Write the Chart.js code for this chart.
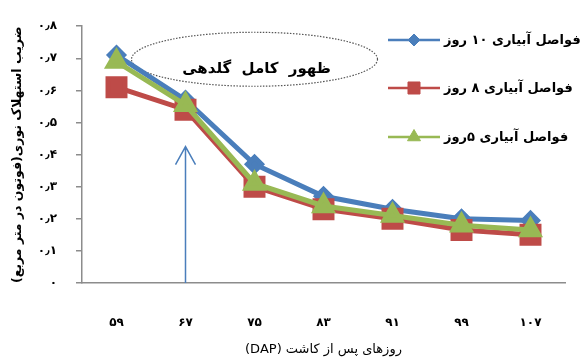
<!DOCTYPE html>
<html>
<head>
<meta charset="utf-8">
<script src="https://cdn.jsdelivr.net/npm/chart.js@4.4.1/dist/chart.umd.min.js"></script>
<style>
  html, body { margin: 0; padding: 0; background: #ffffff; }
  #wrap { position: relative; width: 582px; height: 358px; }
</style>
</head>
<body>
<div id="wrap"><canvas id="c" dir="rtl"></canvas></div>
<script>
// ---- data ----
const categories = ['۵۹', '۶۷', '۷۵', '۸۳', '۹۱', '۹۹', '۱۰۷'];
const irrigation10 = [0.71, 0.57, 0.37, 0.27, 0.23, 0.20, 0.195];
const irrigation8  = [0.61, 0.54, 0.30, 0.23, 0.20, 0.165, 0.15];
const irrigation5  = [0.69, 0.555, 0.31, 0.24, 0.21, 0.18, 0.165];
const seriesNames = ['فواصل آبیاری ۱۰ روز', 'فواصل آبیاری ۸ روز', 'فواصل آبیاری ۵روز'];
const yTickLabels = ['۰', '۰٫۱', '۰٫۲', '۰٫۳', '۰٫۴', '۰٫۵', '۰٫۶', '۰٫۷', '۰٫۸'];
const xTitle = 'روزهای پس از کاشت (DAP)';
const yTitle = 'ضریب استهلاک نوری(فوتون در متر مربع)';
const noteText = 'ظهور کامل گلدهی';
const arrowCategory = 1;   // ۶۷
const arrowTopValue = 0.425;

const FONT = '"DejaVu Sans", sans-serif';
const BLUE = '#4a7ebb', RED = '#be4b48', GREEN = '#98b954';
const AXIS = '#8c8c8c';

const overlay = {
  id: 'overlay',
  beforeDatasetsDraw(chart) {
    const ctx = chart.ctx, xs = chart.scales.x, ys = chart.scales.y;
    const cx = xs.getPixelForValue(2), cy = ys.getPixelForValue(0.697);
    ctx.save();
    ctx.beginPath();
    ctx.ellipse(cx, cy, 123, 27, 0, 0, Math.PI * 2);
    ctx.setLineDash([1.5, 1.5]);
    ctx.lineWidth = 1.2;
    ctx.strokeStyle = '#555555';
    ctx.stroke();
    ctx.setLineDash([]);
    ctx.fillStyle = '#000000';
    ctx.direction = 'ltr';
    ctx.font = 'bold 15px ' + FONT;
    if ('wordSpacing' in ctx) ctx.wordSpacing = '5px';
    ctx.textAlign = 'left';
    ctx.textBaseline = 'middle';
    const w = ctx.measureText(noteText).width;
    ctx.fillText(noteText, cx + 2 - w / 2, ys.getPixelForValue(0.666));
    ctx.restore();
  },
  afterDraw(chart) {
    const ctx = chart.ctx, xs = chart.scales.x, ys = chart.scales.y;
    // arrow
    const ax = xs.getPixelForValue(arrowCategory);
    const y0 = ys.getPixelForValue(0), y1 = ys.getPixelForValue(arrowTopValue);
    ctx.save();
    ctx.strokeStyle = BLUE;
    ctx.lineWidth = 1.5;
    ctx.beginPath();
    ctx.moveTo(ax, y0);
    ctx.lineTo(ax, y1);
    ctx.moveTo(ax - 10, y1 + 18);
    ctx.lineTo(ax, y1);
    ctx.lineTo(ax + 10, y1 + 18);
    ctx.stroke();
    ctx.restore();
    // legend
    const legendY = [40, 88, 137];
    const legendR = [6, 8.5, 7.5];
    chart.data.datasets.forEach((ds, i) => {
      const y = legendY[i];
      ctx.save();
      ctx.strokeStyle = ds.borderColor;
      ctx.lineWidth = 2.5;
      ctx.beginPath();
      ctx.moveTo(388, y);
      ctx.lineTo(440, y);
      ctx.stroke();
      ctx.fillStyle = ds.backgroundColor;
      ctx.strokeStyle = ds.borderColor;
      ctx.lineWidth = 1;
      Chart.helpers.drawPoint(ctx, { pointStyle: ds.pointStyle, radius: legendR[i], rotation: 0, borderWidth: 1 }, 414, y);
      ctx.fillStyle = '#000000';
      ctx.direction = 'ltr';
      ctx.font = 'bold 13px ' + FONT;
      ctx.textAlign = 'left';
      ctx.textBaseline = 'middle';
      ctx.fillText(ds.label, 444, y + 1);
      ctx.restore();
    });
  }
};

new Chart(document.getElementById('c'), {
  type: 'line',
  data: {
    labels: categories,
    datasets: [
      { label: seriesNames[0], data: irrigation10, borderColor: BLUE, backgroundColor: BLUE,
        borderWidth: 5, pointStyle: 'rectRot', pointRadius: 7, order: 3 },
      { label: seriesNames[1], data: irrigation8, borderColor: RED, backgroundColor: RED,
        borderWidth: 5, pointStyle: 'rect', pointRadius: 12, order: 2 },
      { label: seriesNames[2], data: irrigation5, borderColor: GREEN, backgroundColor: GREEN,
        borderWidth: 5, pointStyle: 'triangle', pointRadius: 9.5, order: 1 }
    ]
  },
  options: {
    responsive: true,
    maintainAspectRatio: false,
    animation: false,
    events: [],
    layout: { padding: { top: 22, right: 12, left: 0, bottom: 0 } },
    plugins: { legend: { display: false }, tooltip: { enabled: false } },
    elements: { line: { tension: 0 }, point: { borderWidth: 1 } },
    scales: {
      x: {
        offset: true,
        grid: { display: true, drawOnChartArea: false, drawTicks: false },
        border: { display: true, color: AXIS, width: 1.5 },
        ticks: { color: '#000', font: { family: FONT, size: 12, weight: 'bold' }, padding: 33, maxRotation: 0 },
        title: { display: true, text: xTitle, color: '#000', font: { family: FONT, size: 13 }, padding: { top: 0, bottom: 1 } },
        afterFit(s) { s.height = 75; }
      },
      y: {
        min: 0, max: 0.8,
        grid: { display: true, drawOnChartArea: false, drawTicks: true, tickLength: 6, color: AXIS, lineWidth: 1.5 },
        border: { display: true, color: AXIS, width: 1.5 },
        ticks: { stepSize: 0.1, color: '#000', font: { family: FONT, size: 12, weight: 'bold' }, padding: 19,
                 callback: (v, i) => yTickLabels[i] },
        title: { display: true, text: yTitle, color: '#000', font: { family: FONT, size: 12.5, weight: 'bold' }, padding: { top: 10, bottom: 0 } },
        afterFit(s) { s.width = 82; }
      }
    }
  },
  plugins: [overlay]
});
</script>
</body>
</html>
